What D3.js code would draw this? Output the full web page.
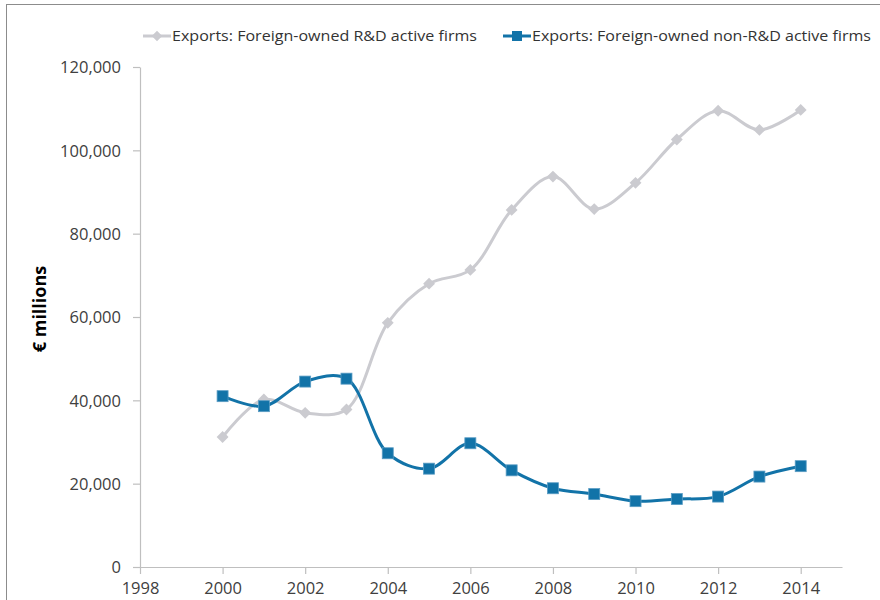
<!DOCTYPE html>
<html lang="en">
<head>
<meta charset="UTF-8">
<title>Exports: foreign-owned firms</title>
<style>
  body { margin: 0; background: #fff; }
  svg { display: block; }
  .axis text { font-family: "Open Sans", "Noto Sans", sans-serif; font-size: 16.5px; fill: #404040; }
  .axis path, .axis line { stroke: #bfbfbf; stroke-width: 1.2px; }
  .legend text { font-family: "Open Sans", "Noto Sans", sans-serif; font-size: 15px; fill: #333; }
</style>
</head>
<body>
<script src="https://d3js.org/d3.v7.min.js"></script>
<script>
// data
var years = [2000, 2001, 2002, 2003, 2004, 2005, 2006, 2007, 2008, 2009, 2010, 2011, 2012, 2013, 2014];
var rdActive = [31200, 40200, 37000, 37800, 58600, 68000, 71300, 85700, 93700, 85900, 92200, 102600, 109500, 104900, 109700];
var nonRdActive = [41000, 38600, 44500, 45200, 27300, 23600, 29700, 23200, 18900, 17500, 15800, 16300, 16900, 21700, 24200];
var seriesNames = ["Exports: Foreign-owned R&D active firms", "Exports: Foreign-owned non-R&D active firms"];
var xTicks = [1998, 2000, 2002, 2004, 2006, 2008, 2010, 2012, 2014];
var yTicks = [0, 20000, 40000, 60000, 80000, 100000, 120000];

var W = 880, H = 600;
var grey = "#cbcbd0", blue = "#1273a8";

var svg = d3.select("body").append("svg")
  .attr("width", W)
  .attr("height", H);

// frame of the original figure
svg.append("rect")
  .attr("x", 6.5).attr("y", 4.5)
  .attr("width", W + 20).attr("height", H + 20)
  .attr("fill", "none")
  .attr("stroke", "#8c8c8c")
  .attr("stroke-width", 1);

var x = d3.scaleLinear().domain([1998, 2015]).range([140, 842]);
var y = d3.scaleLinear().domain([0, 120000]).range([567, 67]);

svg.append("g")
  .attr("class", "axis")
  .attr("transform", "translate(140,0)")
  .call(d3.axisLeft(y).tickValues(yTicks).tickSize(7).tickSizeOuter(0).tickPadding(12).tickFormat(d3.format(",")))
  .call(function (g) { g.selectAll("text").attr("dy", "0.36em"); });

svg.append("g")
  .attr("class", "axis")
  .attr("transform", "translate(0,567)")
  .call(d3.axisBottom(x).tickValues(xTicks).tickSize(7).tickSizeOuter(0).tickPadding(8).tickFormat(d3.format("d")));

svg.append("text")
  .attr("transform", "translate(40,309) rotate(-90)")
  .attr("text-anchor", "middle")
  .attr("dy", "0.35em")
  .style("font-family", "'Open Sans', 'Noto Sans', sans-serif")
  .style("font-size", "18px")
  .style("font-weight", "bold")
  .style("fill", "#000")
  .text("€ millions");

var line = d3.line()
  .x(function (d) { return x(d[0]); })
  .y(function (d) { return y(d[1]); })
  .curve(d3.curveCatmullRom.alpha(0.5));

var greyData = years.map(function (yr, i) { return [yr, rdActive[i]]; });
var blueData = years.map(function (yr, i) { return [yr, nonRdActive[i]]; });

var diamond = d3.symbol().type(d3.symbolDiamond2).size(90);

function drawGrey(g, data) {
  g.append("path").datum(data)
    .attr("d", line)
    .attr("fill", "none")
    .attr("stroke", grey)
    .attr("stroke-width", 3);
  g.selectAll(".dm").data(data).enter().append("path")
    .attr("class", "dm")
    .attr("transform", function (d) { return "translate(" + x(d[0]) + "," + y(d[1]) + ")"; })
    .attr("d", diamond)
    .attr("fill", grey);
}

function drawBlue(g, data) {
  g.append("path").datum(data)
    .attr("d", line)
    .attr("fill", "none")
    .attr("stroke", blue)
    .attr("stroke-width", 3);
  g.selectAll(".sq").data(data).enter().append("rect")
    .attr("class", "sq")
    .attr("x", function (d) { return x(d[0]) - 5.5; })
    .attr("y", function (d) { return y(d[1]) - 5.5; })
    .attr("width", 11).attr("height", 11)
    .attr("fill", blue)
    .attr("stroke", "#5a9cc4")
    .attr("stroke-width", 0.8);
}

drawGrey(svg.append("g"), greyData);
drawBlue(svg.append("g"), blueData);

// legend
var legend = svg.append("g").attr("class", "legend");
var lg1 = legend.append("g").attr("transform", "translate(143,36)");
lg1.append("line").attr("x1", 0).attr("x2", 28).attr("stroke", grey).attr("stroke-width", 3);
lg1.append("path").attr("transform", "translate(14,0)").attr("d", d3.symbol().type(d3.symbolDiamond2).size(70)).attr("fill", grey);
lg1.append("text").attr("x", 29).attr("dy", "0.35em").text(seriesNames[0])
  .attr("textLength", 305).attr("lengthAdjust", "spacingAndGlyphs");

var lg2 = legend.append("g").attr("transform", "translate(503,36)");
lg2.append("line").attr("x1", 0).attr("x2", 28).attr("stroke", blue).attr("stroke-width", 3);
lg2.append("rect").attr("x", 9).attr("y", -5).attr("width", 10).attr("height", 10).attr("fill", blue);
lg2.append("text").attr("x", 29).attr("dy", "0.35em").text(seriesNames[1])
  .attr("textLength", 339).attr("lengthAdjust", "spacingAndGlyphs");
</script>
</body>
</html>
